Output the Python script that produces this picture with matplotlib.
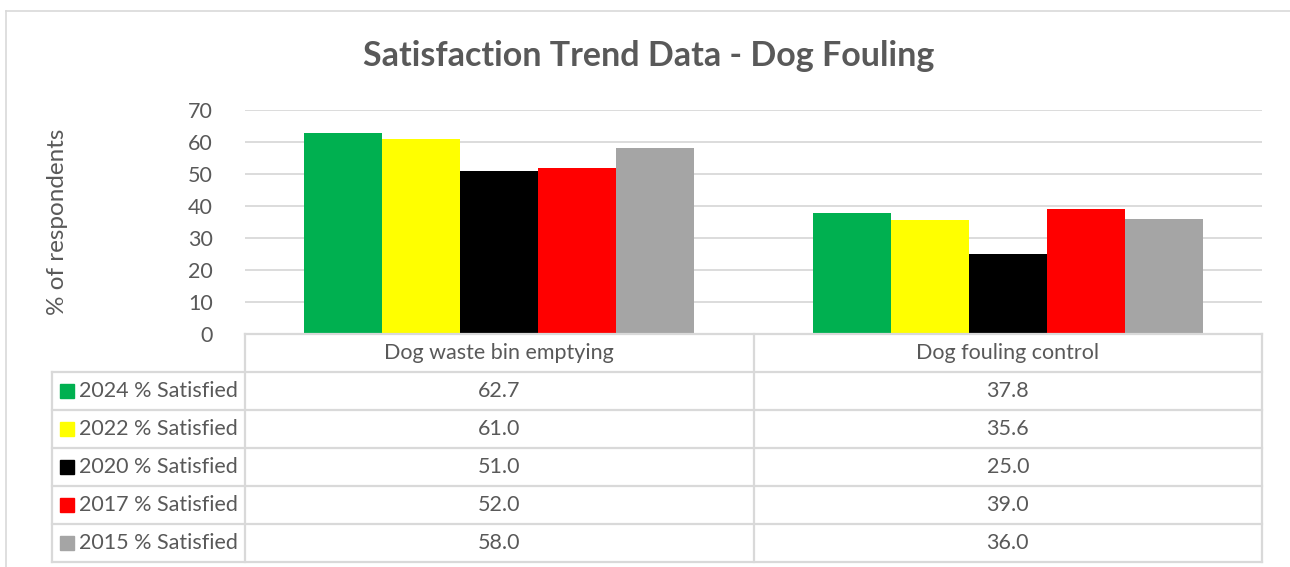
import matplotlib
matplotlib.use("Agg")
import matplotlib.pyplot as plt
from matplotlib.patches import Rectangle
from matplotlib.lines import Line2D
import numpy as np

plt.rcParams['font.family'] = ['Lato', 'DejaVu Sans']

categories = ["Dog waste bin emptying", "Dog fouling control"]
series_names = ["2024 % Satisfied", "2022 % Satisfied", "2020 % Satisfied",
                "2017 % Satisfied", "2015 % Satisfied"]
values_2024 = [62.7, 37.8]
values_2022 = [61.0, 35.6]
values_2020 = [51.0, 25.0]
values_2017 = [52.0, 39.0]
values_2015 = [58.0, 36.0]
series_values = [values_2024, values_2022, values_2020, values_2017, values_2015]
colors = ["#00B050", "#FFFF00", "#000000", "#FF0000", "#A5A5A5"]
yticks = [0, 10, 20, 30, 40, 50, 60, 70]

W, H = 1290, 567
TXT = "#595959"
GRID = "#d9d9d9"
FS = 15.5
fig = plt.figure(figsize=(W / 100, H / 100), dpi=100)

def fx(px):
    return px / W

def fy(py):
    return 1 - py / H

# chart frame
fig.add_artist(Line2D([fx(6), fx(1290)], [fy(11), fy(11)], color=GRID, lw=1.2))
fig.add_artist(Line2D([fx(6), fx(6)], [fy(11), fy(567)], color=GRID, lw=1.2))

pl, pr, pt, pb = 245, 1262, 110, 334
ax = fig.add_axes([fx(pl), fy(pb), fx(pr - pl), (pb - pt) / H])
n = len(series_values)
bw = 0.1534
x = np.arange(len(categories))
for i, (vals, c) in enumerate(zip(series_values, colors)):
    ax.bar(x + (i - (n - 1) / 2) * bw, vals, width=bw, color=c, zorder=3, linewidth=0)
ax.set_xlim(-0.5, len(categories) - 0.5)
ax.set_ylim(0, 70)
ax.set_yticks(yticks)
ax.set_yticklabels([str(t) for t in yticks], fontsize=FS, color=TXT)
ax.tick_params(axis='y', length=0, pad=23)
ax.set_xticks([])
ax.grid(axis='y', color=GRID, lw=1.3, zorder=0)
for s in ax.spines.values():
    s.set_visible(False)

fig.text(fx(57), fy(222), "% of respondents", rotation=90, ha='center', va='center',
         fontsize=17.5, color=TXT)

fig.text(fx(649), fy(56), "Satisfaction Trend Data - Dog Fouling", ha='center', va='center',
         fontsize=24.5, fontweight='bold', color=TXT)

# data table
col_x = [52, 245, 753.5, 1262]
row_y = [334, 372, 410, 448, 486, 524, 562]
tl = dict(color=GRID, lw=1.6)
fig.add_artist(Line2D([fx(245), fx(1262)], [fy(row_y[0])] * 2, **tl))
for yy in row_y[1:]:
    fig.add_artist(Line2D([fx(52), fx(1262)], [fy(yy)] * 2, **tl))
fig.add_artist(Line2D([fx(52), fx(52)], [fy(row_y[1]), fy(row_y[-1])], **tl))
for xx in col_x[1:]:
    fig.add_artist(Line2D([fx(xx), fx(xx)], [fy(row_y[0]), fy(row_y[-1])], **tl))

centers = [(col_x[1] + col_x[2]) / 2, (col_x[2] + col_x[3]) / 2]
for cx, cat in zip(centers, categories):
    fig.text(fx(cx), fy((row_y[0] + row_y[1]) / 2), cat, ha='center', va='center',
             fontsize=FS, color=TXT)
for r, (name, vals, c) in enumerate(zip(series_names, series_values, colors)):
    yc = (row_y[r + 1] + row_y[r + 2]) / 2
    fig.add_artist(Rectangle((fx(60), fy(yc + 7)), fx(14), 14 / H, color=c))
    fig.text(fx(79), fy(yc), name, ha='left', va='center', fontsize=FS, color=TXT)
    for cx, v in zip(centers, vals):
        fig.text(fx(cx), fy(yc), f"{v:.1f}", ha='center', va='center', fontsize=FS, color=TXT)

fig.savefig("out.png", dpi=100)
